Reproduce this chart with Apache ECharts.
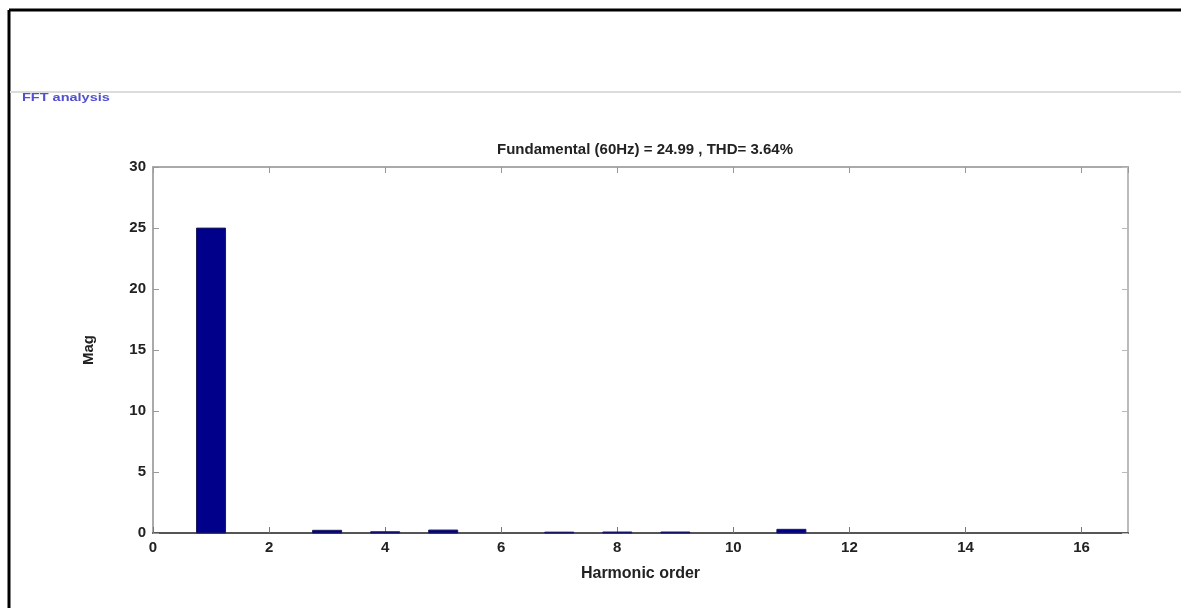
<!DOCTYPE html>
<html>
<head>
<meta charset="utf-8">
<script src="https://cdn.jsdelivr.net/npm/echarts@6/dist/echarts.min.js"></script>
<style>
html,body{margin:0;padding:0;background:#fff;}
#chart{width:1181px;height:608px;}
</style>
</head>
<body>
<div id="chart"></div>
<script>
// Harmonic orders and magnitudes
const harmonicOrders = [1, 2, 3, 4, 5, 6, 7, 8, 9, 10, 11, 12, 13, 14, 15, 16];
const magnitudes = [24.99, 0, 0.22, 0.1, 0.24, 0, 0.07, 0.08, 0.08, 0, 0.3, 0, 0, 0, 0, 0];
const xTicks = [0, 2, 4, 6, 8, 10, 12, 14, 16];
const yTicks = [0, 5, 10, 15, 20, 25, 30];
const titleText = 'Fundamental (60Hz) = 24.99 , THD= 3.64%';
const xName = 'Harmonic order';
const yName = 'Mag';
const panelLabel = 'FFT analysis';
const barWidthUnits = 0.5;

const data = harmonicOrders.map((h, i) => [h, magnitudes[i]]);
const font = '"Liberation Sans", Arial, sans-serif';

const chart = echarts.init(document.getElementById('chart'), null, {renderer: 'canvas'});
const labelStyle = {fontFamily: font, fontWeight: 'bold', fontSize: 15, color: '#222'};

chart.setOption({
  animation: false,
  backgroundColor: '#fff',
  title: {
    text: titleText,
    left: 640, top: 137, textAlign: 'center',
    textStyle: {fontFamily: font, fontWeight: 'bold', fontSize: 15, color: '#222'}
  },
  grid: {left: 153, top: 167, right: 53, bottom: 75, containLabel: false},
  xAxis: [{
    type: 'value', min: 0, max: 16.8, interval: 2,
    position: 'bottom',
    axisLine: {show: true, onZero: false, lineStyle: {color: '#555', width: 2}},
    axisTick: {show: true, inside: true, length: 6, lineStyle: {color: '#777'}},
    axisLabel: Object.assign({margin: 7, showMaxLabel: false,
      formatter: v => xTicks.includes(v) ? String(v) : ''}, labelStyle),
    splitLine: {show: false},
    name: xName, nameLocation: 'middle', nameGap: 33,
    nameTextStyle: {fontFamily: font, fontWeight: 'bold', fontSize: 16, color: '#222'}
  }, {
    type: 'value', min: 0, max: 16.8, interval: 2,
    position: 'top',
    axisLine: {show: true, onZero: false, lineStyle: {color: '#aaa', width: 2}},
    axisTick: {show: true, inside: true, length: 6, lineStyle: {color: '#999'}},
    axisLabel: {show: false},
    splitLine: {show: false}
  }],
  yAxis: [{
    type: 'value', min: 0, max: 30, interval: 5,
    position: 'left',
    axisLine: {show: true, onZero: false, lineStyle: {color: '#aaa', width: 2}},
    axisTick: {show: true, inside: true, length: 6, lineStyle: {color: '#999'}},
    axisLabel: Object.assign({margin: 7,
      formatter: v => yTicks.includes(v) ? String(v) : ''}, labelStyle),
    splitLine: {show: false},
    name: yName, nameLocation: 'middle', nameGap: 57, nameRotate: 90,
    nameTextStyle: {fontFamily: font, fontWeight: 'bold', fontSize: 15, color: '#222'}
  }, {
    type: 'value', min: 0, max: 30, interval: 5,
    position: 'right',
    axisLine: {show: true, onZero: false, lineStyle: {color: '#bbb', width: 2}},
    axisTick: {show: true, inside: true, length: 6, lineStyle: {color: '#bbb'}},
    axisLabel: {show: false},
    splitLine: {show: false}
  }],
  series: [{
    type: 'custom',
    xAxisIndex: 0, yAxisIndex: 0,
    data: data,
    renderItem: function (params, api) {
      const x = api.value(0), y = api.value(1);
      if (!(y > 0)) return null;
      const p0 = api.coord([x - barWidthUnits / 2, y]);
      const p1 = api.coord([x + barWidthUnits / 2, 0]);
      return {
        type: 'rect',
        shape: {x: p0[0], y: p0[1], width: p1[0] - p0[0], height: p1[1] - p0[1]},
        style: {fill: '#00008b', stroke: '#1a1a5a', lineWidth: 1}
      };
    },
    z: 1
  }],
  graphic: [
    {type: 'line', shape: {x1: 9, y1: 10, x2: 1181, y2: 10}, style: {stroke: '#000', lineWidth: 3}, z: 10},
    {type: 'line', shape: {x1: 9, y1: 10, x2: 9, y2: 608}, style: {stroke: '#000', lineWidth: 3}, z: 10},
    {type: 'line', shape: {x1: 10, y1: 92, x2: 1181, y2: 92}, style: {stroke: '#dcdcdc', lineWidth: 2}, z: 10},
    {type: 'text', x: 22, y: 93, scaleX: 1.45, scaleY: 1,
     style: {text: panelLabel, fill: '#5050d0', font: 'bold 10px ' + font}, z: 10}
  ]
});
</script>
</body>
</html>
